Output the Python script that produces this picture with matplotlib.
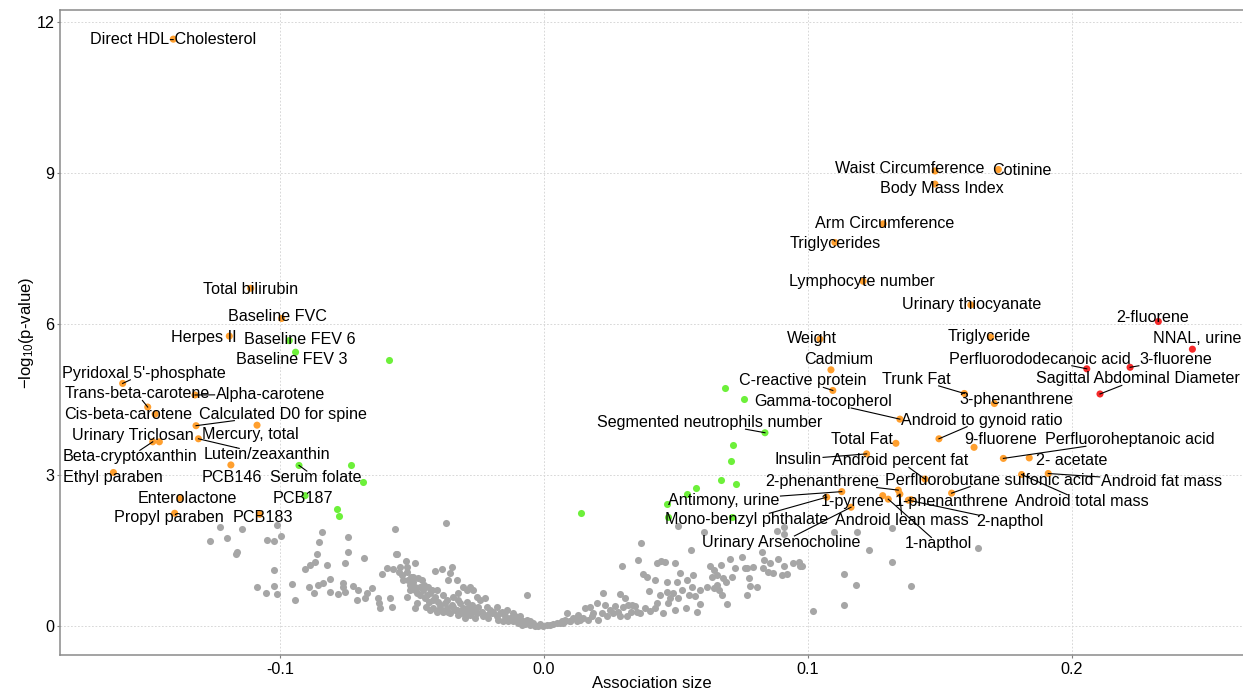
import matplotlib
matplotlib.use("Agg")
import matplotlib.pyplot as plt
import numpy as np

plt.rcParams['font.family'] = ['Liberation Sans', 'DejaVu Sans']
plt.rcParams['mathtext.fontset'] = 'custom'
plt.rcParams['mathtext.rm'] = 'Liberation Sans'
plt.rcParams['mathtext.it'] = 'Liberation Sans:italic'

# ---------------- data ----------------
# labelled hits: name, association size, -log10(p), group
hit_names = [
    "Direct HDL-Cholesterol", "Total bilirubin", "Baseline FVC", "Herpes II",
    "Pyridoxal 5'-phosphate", "Alpha-carotene", "Trans-beta-carotene", "Cis-beta-carotene",
    "Calculated D0 for spine", "Mercury, total", "Lutein/zeaxanthin", "Beta-cryptoxanthin",
    "Urinary Triclosan", "Ethyl paraben", "PCB146", "Enterolactone", "Propyl paraben", "PCB183",
    "Waist Circumference", "Cotinine", "Body Mass Index", "Arm Circumference", "Triglycerides",
    "Lymphocyte number", "Urinary thiocyanate", "Weight", "Triglyceride", "Cadmium",
    "C-reactive protein", "Trunk Fat", "3-phenanthrene", "Gamma-tocopherol",
    "Android to gynoid ratio", "Total Fat", "9-fluorene", "Insulin", "Perfluoroheptanoic acid",
    "2- acetate", "Android fat mass", "Android total mass", "Android percent fat",
    "2-phenanthrene", "Perfluorobutane sulfonic acid", "Antimony, urine", "Mono-benzyl phthalate",
    "1-pyrene", "1-napthol", "2-napthol", "Urinary Arsenocholine", "1-phenanthrene",
    "Android lean mass",
    "2-fluorene", "NNAL, urine", "Perfluorododecanoic acid", "3-fluorene",
    "Sagittal Abdominal Diameter",
    "Baseline FEV 6", "Baseline FEV 3", "Serum folate", "PCB187", "Segmented neutrophils number",
]
hit_x = [
    -0.1404, -0.1111, -0.0994, -0.1192,
    -0.1596, -0.1322, -0.1501, -0.1473,
    -0.1318, -0.1087, -0.1309, -0.1482,
    -0.1457, -0.1631, -0.1186, -0.1378, -0.1399, -0.1077,
    0.1481, 0.1721, 0.1481, 0.1285, 0.1102,
    0.1209, 0.1617, 0.1045, 0.1692, 0.1087,
    0.1094, 0.1592, 0.1706, 0.1348,
    0.1496, 0.1333, 0.1629, 0.1222, 0.1740,
    0.1838, 0.1910, 0.1809, 0.1443,
    0.1342, 0.1544, 0.1128, 0.1071,
    0.1283, 0.1304, 0.1380, 0.1163, 0.1390,
    0.1348,
    0.2327, 0.2456, 0.2056, 0.2220,
    0.2106,
    -0.0965, -0.0941, -0.0928, -0.0905, 0.0837,
]
hit_y = [
    11.66, 6.71, 6.11, 5.76,
    4.82, 4.59, 4.35, 4.21,
    3.98, 3.99, 3.72, 3.66,
    3.66, 3.05, 3.20, 2.54, 2.24, 2.22,
    9.04, 9.07, 8.78, 7.99, 7.62,
    6.85, 6.38, 5.70, 5.74, 5.09,
    4.68, 4.62, 4.42, 4.11,
    3.72, 3.63, 3.55, 3.42, 3.33,
    3.34, 3.03, 3.01, 2.92,
    2.70, 2.64, 2.67, 2.56,
    2.59, 2.52, 2.50, 2.36, 2.51,
    2.62,
    6.05, 5.50, 5.11, 5.14,
    4.61,
    5.67, 5.44, 3.19, 2.59, 3.84,
]
hit_group = (["orange"] * 51) + (["red"] * 5) + (["green"] * 5)

# label placement (data units), same order as hit_names
label_x = [
    -0.1405, -0.1111, -0.1008, -0.1289,
    -0.1514, -0.1035, -0.1541, -0.1577,
    -0.0987, -0.1114, -0.1050, -0.1568,
    -0.1558, -0.1634, -0.1182, -0.1350, -0.1422, -0.1064,
    0.1384, 0.1811, 0.1508, 0.1289, 0.1102,
    0.1205, 0.1621, 0.1014, 0.1687, 0.1116,
    0.0982, 0.1412, 0.1788, 0.1056,
    0.1660, 0.1203, 0.1730, 0.0962, 0.2220,
    0.2000, 0.2340, 0.2038, 0.1348,
    0.1052, 0.1685, 0.0679, 0.0766,
    0.1169, 0.1495, 0.1765, 0.0900, 0.1545,
    0.1356,
    0.2304, 0.2475, 0.1879, 0.2393,
    0.2251,
    -0.0924, -0.0957, -0.0864, -0.0913, 0.0629,
]
label_y = [
    11.66, 6.69, 6.15, 5.73,
    5.02, 4.60, 4.61, 4.21,
    4.21, 3.80, 3.40, 3.36,
    3.78, 2.95, 2.95, 2.54, 2.16, 2.16,
    9.08, 9.06, 8.70, 8.00, 7.59,
    6.84, 6.38, 5.72, 5.75, 5.29,
    4.87, 4.90, 4.51, 4.46,
    4.09, 3.70, 3.70, 3.31, 3.70,
    3.28, 2.88, 2.48, 3.28,
    2.88, 2.90, 2.50, 2.11,
    2.48, 1.63, 2.07, 1.66, 2.48,
    2.09,
    6.13, 5.72, 5.30, 5.30,
    4.91,
    5.70, 5.30, 2.95, 2.54, 4.04,
]

# unlabelled green (suggestive) results
green_x = [-0.0587, -0.0731, -0.0687, -0.0785, -0.0775, 0.0142, 0.0686, 0.0759,
           0.0717, 0.0708, 0.0670, 0.0727, 0.0576, 0.0541, 0.0467, 0.0471, 0.0711]
green_y = [5.28, 3.20, 2.87, 2.32, 2.18, 2.25, 4.72, 4.52,
           3.60, 3.28, 2.90, 2.82, 2.75, 2.62, 2.42, 2.16, 2.16]

# non-significant results
gray_x = [
    -0.1227, -0.1202, -0.1265, -0.1162, -0.1167, -0.1143, -0.1051, -0.1023, -0.1013, -0.0997,
    -0.1086, -0.1053, -0.1021, -0.1023, -0.1010, -0.0955, -0.0944,
    -0.0840, -0.0852, -0.0861, -0.0867, -0.0886, -0.0905, -0.0823, -0.0811, -0.0836, -0.0855,
    -0.0890, -0.0871, -0.0811, -0.0782, -0.0763, -0.0760, -0.0754, -0.0744, -0.0741, -0.0754,
    -0.0722, -0.0703, -0.0682, -0.0672, -0.0653, -0.0678, -0.0707, -0.0630, -0.0624, -0.0621,
    -0.0615, -0.0593, -0.0573, -0.0583, -0.0577, -0.0564, -0.0561, -0.0556, -0.0548, -0.0539,
    -0.0523, -0.0520, -0.0489, -0.0514, -0.0508, -0.0520, -0.0482, -0.0489, -0.0495, -0.0476,
    -0.0470, -0.0457, -0.0447, -0.0438, -0.0419, -0.0413, -0.0388, -0.0372, -0.0362, -0.0356,
    -0.0347, -0.0331, -0.0324, -0.0318, -0.0306, -0.0293, -0.0280, -0.0268, -0.0255, -0.0242,
    -0.0223, -0.0217, -0.0205, -0.0179, -0.0167, -0.0141, -0.0116, -0.0091, -0.0066, -0.0053,
    -0.0040, -0.0015, 0.0010, 0.0035, 0.0061,
    -0.0432, -0.0419, -0.0407, -0.0394, -0.0381, -0.0369, -0.0356, -0.0343, -0.0331, -0.0318,
    -0.0306, -0.0293, -0.0280, -0.0268, -0.0255, -0.0236, -0.0217, -0.0198, -0.0179, -0.0160,
    -0.0148, -0.0129, -0.0110, -0.0097, -0.0078, -0.0066,
    -0.0508, -0.0489, -0.0470, -0.0451, -0.0432, -0.0407, -0.0381, -0.0369, -0.0343, -0.0324,
    -0.0293, -0.0274, -0.0533, -0.0501,
    -0.0545, -0.0520, -0.0504, -0.0495, -0.0489, -0.0480, -0.0463, -0.0455, -0.0444, -0.0434,
    -0.0426, -0.0413, -0.0400, -0.0394, -0.0375, -0.0362, -0.0350, -0.0337, -0.0324, -0.0306,
    -0.0299, -0.0287, -0.0274, -0.0261, -0.0249, -0.0230, -0.0211, -0.0192, -0.0173, -0.0154,
    -0.0135, -0.0116, -0.0097, -0.0085, -0.0072, -0.0053, -0.0034, -0.0021, -0.0003, 0.0023,
    0.0048, 0.0067, 0.0080, 0.0098,
    0.0509, 0.0607, 0.0881, 0.0909, 0.0910, 0.1098, 0.1184, 0.1317, 0.0367, 0.0557,
    0.0703, 0.0824, 0.0833, 0.1232, 0.1319, 0.1643, 0.0297, 0.0355, 0.0427, 0.0443,
    0.0460, 0.0496, 0.0629, 0.0644, 0.0654, 0.0672, 0.0677, 0.0688, 0.0769, 0.0793,
    0.0850, 0.0869, 0.0903, 0.0909, 0.0919, 0.0965, 0.0976, 0.1138, 0.1181, 0.1390,
    0.1138, 0.1020, 0.0374, 0.0391, 0.0420, 0.0465, 0.0505, 0.0515, 0.0399, 0.0465,
    0.0477, 0.0471, 0.0509, 0.0549, 0.0572, 0.0591, 0.0644, 0.0657, 0.0664, 0.0676,
    0.0694, 0.0778, 0.0780, 0.0806, 0.0770, 0.0225, 0.0288, 0.0231, 0.0269, 0.0307,
    0.0320, 0.0330, 0.0345, 0.0364, 0.0402, 0.0420, 0.0452, 0.0496, 0.0538, 0.0578,
    0.0174, 0.0155, 0.0136, 0.0124, 0.0086, 0.0080, 0.0073, 0.0098, 0.0199, 0.0187,
    0.0206, 0.0237, 0.0263, 0.0288, 0.0313,
    0.0111, 0.0130, 0.0149, 0.0168, 0.0181, 0.0218, 0.0250, 0.0282, 0.0301, 0.0332,
    0.0351, 0.0383, 0.0427, 0.0439, 0.0490, 0.0521, 0.0559, 0.0591, 0.0616, 0.0540,
    0.0566, 0.0635, 0.0711, 0.0723, 0.0749, 0.0761, 0.0831, 0.0856, 0.0888, 0.0944,
    0.0970,
]
gray_y = [
    1.96, 1.755, 1.68, 1.48, 1.44, 1.93, 1.70, 1.69, 2.01, 1.79,
    0.77, 0.66, 1.11, 0.80, 0.64, 0.83, 0.52,
    1.87, 1.66, 1.44, 1.28, 1.21, 1.13, 1.21, 0.93, 0.86, 0.81,
    0.77, 0.66, 0.68, 0.63, 0.86, 0.77, 0.68, 1.77, 1.48, 1.26,
    0.79, 0.72, 1.36, 0.65, 0.75, 0.55, 0.52, 0.55, 0.46, 0.35,
    1.03, 1.15, 1.13, 0.55, 0.38, 1.93, 1.44, 1.43, 1.08, 1.01,
    1.29, 1.08, 1.26, 0.91, 0.72, 0.58, 0.45, 0.35, 0.98, 0.95,
    0.78, 0.72, 0.38, 0.78, 0.52, 1.10, 1.13, 2.04, 0.91, 1.05,
    1.17, 0.91, 0.65, 0.45, 0.78, 0.72, 0.78, 0.72, 0.58, 0.52,
    0.55, 0.38, 0.32, 0.38, 0.25, 0.32, 0.25, 0.19, 0.62, 0.09,
    0.05, 0.04, 0.02, 0.04, 0.05,
    0.32, 0.35, 0.28, 0.42, 0.28, 0.35, 0.25, 0.38, 0.32, 0.25,
    0.35, 0.28, 0.22, 0.32, 0.25, 0.28, 0.22, 0.25, 0.19, 0.28,
    0.19, 0.15, 0.19, 0.12, 0.09, 0.12,
    0.81, 0.72, 0.62, 0.55, 0.65, 0.72, 0.62, 0.52, 0.58, 0.52,
    0.48, 0.42, 0.91, 0.85,
    1.18, 1.17, 0.98, 0.88, 0.78, 0.65, 0.91, 0.81, 0.62, 0.48,
    0.72, 0.58, 0.48, 0.35, 0.45, 0.28, 0.42, 0.32, 0.22, 0.25,
    0.15, 0.35, 0.28, 0.15, 0.38, 0.19, 0.15, 0.28, 0.12, 0.09,
    0.09, 0.09, 0.05, 0.02, 0.04, 0.02, 0.01, 0.01, 0.01, 0.02,
    0.05, 0.09, 0.12, 0.09,
    1.99, 1.86, 1.89, 1.97, 1.82, 1.86, 1.87, 1.94, 1.64, 1.51,
    1.34, 1.48, 1.32, 1.52, 1.27, 1.54, 1.20, 1.31, 1.25, 1.29,
    1.28, 1.25, 1.20, 1.11, 1.01, 1.21, 0.95, 0.88, 1.15, 1.17,
    1.07, 1.06, 1.01, 1.20, 1.03, 1.28, 1.20, 1.03, 0.81, 0.79,
    0.42, 0.30, 1.03, 0.98, 0.91, 0.88, 0.88, 1.05, 0.70, 0.68,
    0.55, 0.46, 0.55, 0.62, 0.60, 0.44, 0.75, 0.81, 0.72, 0.62,
    0.44, 0.95, 0.79, 0.77, 0.62, 0.66, 0.63, 0.42, 0.40, 0.55,
    0.42, 0.28, 0.40, 0.25, 0.30, 0.35, 0.25, 0.32, 0.35, 0.27,
    0.38, 0.35, 0.12, 0.09, 0.25, 0.09, 0.05, 0.09, 0.45, 0.25,
    0.12, 0.19, 0.25, 0.19, 0.19,
    0.15, 0.22, 0.15, 0.12, 0.19, 0.25, 0.32, 0.28, 0.38, 0.42,
    0.28, 0.35, 0.45, 0.62, 0.65, 0.72, 0.78, 0.72, 0.78, 0.91,
    1.01, 0.98, 0.98, 1.15, 1.38, 1.15, 1.15, 1.25, 1.34, 1.25,
    1.19,
]

x_ticks = [-0.1, 0.0, 0.1, 0.2]
x_ticklabels = ["-0.1", "0.0", "0.1", "0.2"]
y_ticks = [0, 3, 6, 9, 12]
y_ticklabels = ["0", "3", "6", "9", "12"]

# ---------------- style ----------------
colors = {"orange": "#FF9F2E", "red": "#F52A2A", "green": "#6DF03A", "gray": "#A6A6A6"}
W, H, DPI = 1243, 693, 100
AX_L, AX_T, AX_B = 60, 10, 655
fig = plt.figure(figsize=(W / DPI, H / DPI), dpi=DPI)
ax = fig.add_axes([AX_L / W, (H - AX_B) / H, 1.0 - AX_L / W, (AX_B - AX_T) / H])

ax.set_xlim(-0.18333, 0.26477)
ax.set_ylim(-0.576, 12.239)

ax.set_axisbelow(True)
ax.grid(True, color="#d8d8d8", linestyle=(0, (1.8, 1.8)), linewidth=0.7)

ms = 26
ax.scatter(gray_x, gray_y, s=ms, color=colors["gray"], linewidths=0, zorder=2)
ax.scatter(green_x, green_y, s=ms, color=colors["green"], linewidths=0, zorder=2)
ax.scatter(hit_x, hit_y, s=ms, color=[colors[g] for g in hit_group], linewidths=0, zorder=2)

texts = []
for name, lx, ly in zip(hit_names, label_x, label_y):
    t = ax.text(lx, ly, name, ha="center", va="center", fontsize=11.6, color="black", zorder=5)
    texts.append(t)

ax.set_xticks(x_ticks)
ax.set_xticklabels(x_ticklabels)
ax.set_yticks(y_ticks)
ax.set_yticklabels(y_ticklabels)
ax.tick_params(axis="both", which="major", labelsize=11.6, colors="#7f7f7f",
               labelcolor="black", length=2.2, width=0.8)
ax.tick_params(axis="x", pad=3.2)
ax.tick_params(axis="y", pad=1.6)

for side in ["left", "bottom", "top"]:
    ax.spines[side].set_color("#8a8a8a")
    ax.spines[side].set_linewidth(1.1)
ax.spines["right"].set_visible(False)

ax.set_xlabel("Association size", fontsize=12, va="center")
ax.xaxis.set_label_coords(0.5, (AX_B - 683) / (AX_B - AX_T))
ax.set_ylabel(r"$\mathrm{-log_{10}}$(p-value)", fontsize=12, va="center")
ax.yaxis.set_label_coords((27 - AX_L) / (W - AX_L), 0.5)

# repel-style connector segments
fig.canvas.draw()
renderer = fig.canvas.get_renderer()
inv = ax.transData.inverted()
for t, px, py in zip(texts, hit_x, hit_y):
    bb = t.get_window_extent(renderer)
    cx, cy = (bb.x0 + bb.x1) / 2, (bb.y0 + bb.y1) / 2
    hw, hh = bb.width / 2 + 1.5, bb.height / 2 - 1.0
    p = ax.transData.transform((px, py))
    dx, dy = p[0] - cx, p[1] - cy
    tx = hw / abs(dx) if dx != 0 else np.inf
    ty = hh / abs(dy) if dy != 0 else np.inf
    tt = min(tx, ty)
    if tt >= 1:
        continue
    sx, sy = cx + tt * dx, cy + tt * dy
    if np.hypot(p[0] - sx, p[1] - sy) < 7:
        continue
    a = inv.transform((sx, sy))
    ax.plot([a[0], px], [a[1], py], color="black", linewidth=0.8, zorder=3)

fig.savefig("out.png", dpi=DPI)
